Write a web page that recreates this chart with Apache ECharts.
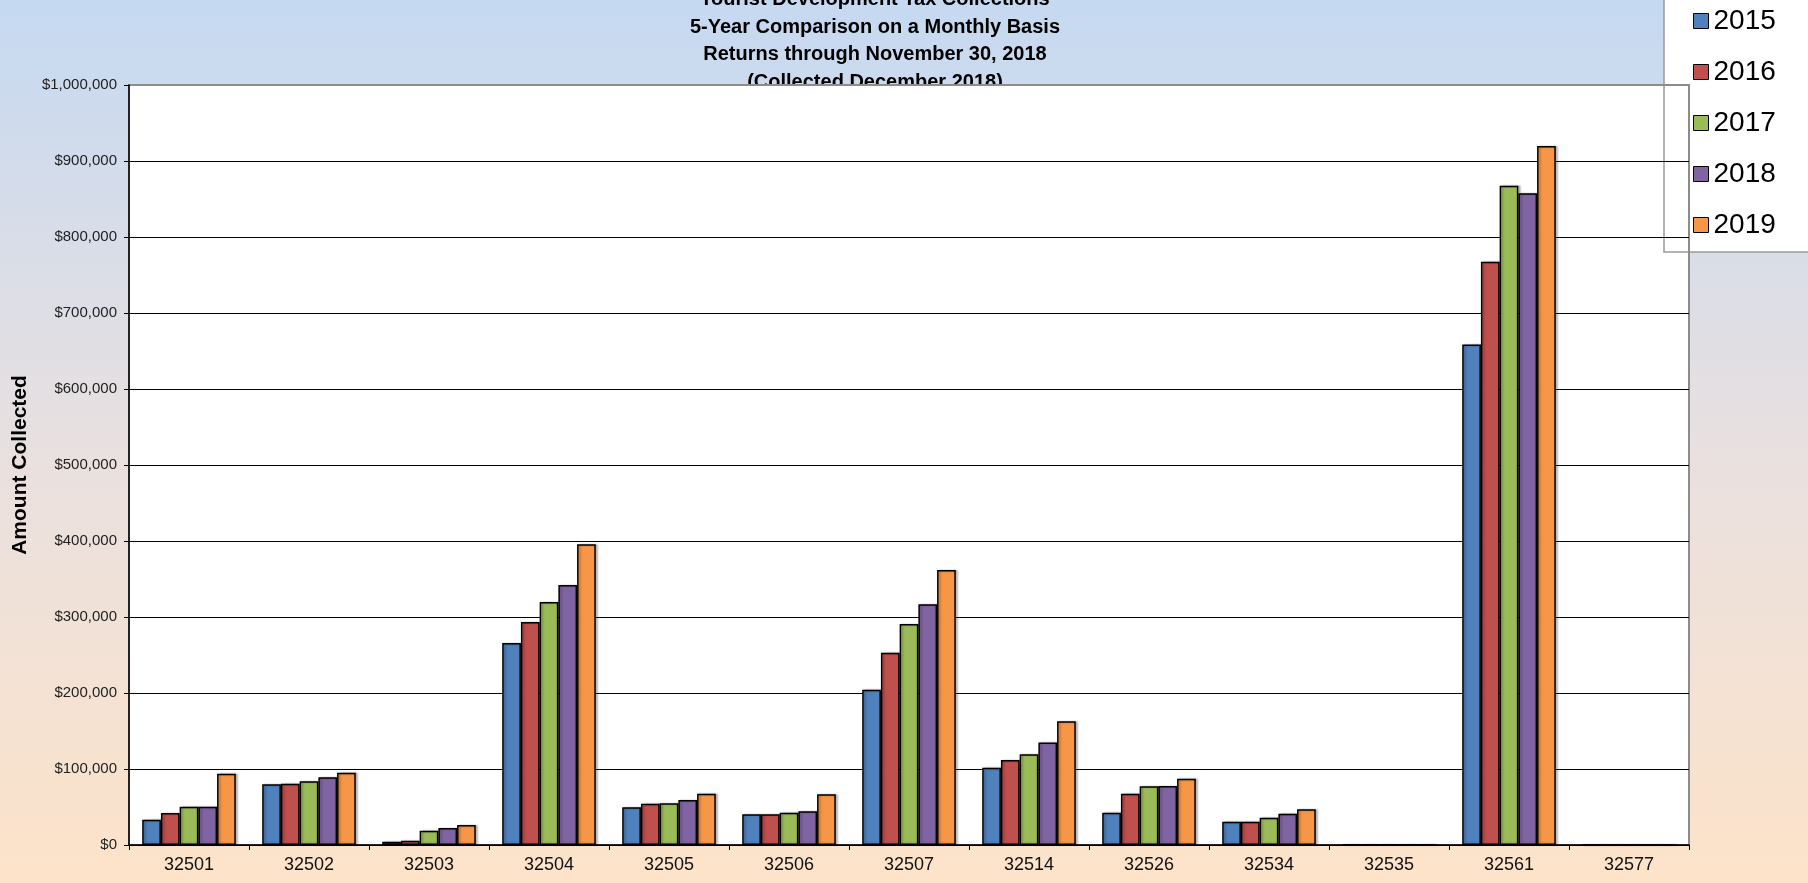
<!DOCTYPE html>
<html>
<head>
<meta charset="utf-8">
<title>Tourist Development Tax Collections</title>
<script src="https://cdn.jsdelivr.net/npm/echarts@6/dist/echarts.min.js"></script>
<style>
  html, body { margin: 0; padding: 0; }
  #panel { width: 1808px; height: 883px; }
</style>
</head>
<body>
<div id="panel"></div>
<script>
// zip codes on the x axis
const zips = ['32501', '32502', '32503', '32504', '32505', '32506', '32507', '32514', '32526', '32534', '32535', '32561', '32577'];
const years = ['2015', '2016', '2017', '2018', '2019'];
const COLORS = ['#4f81bd', '#c0504d', '#9bbb59', '#8064a2', '#f79646'];

// amounts collected per year
const y2015 = [33300, 79800, 4400, 265800, 49600, 40400, 204400, 101800, 42500, 30700, 600, 658500, 300];
const y2016 = [42000, 80700, 5700, 293400, 54400, 40400, 253000, 111800, 67500, 30700, 600, 767500, 300];
const y2017 = [50400, 83800, 18900, 319700, 54800, 42500, 290800, 119300, 77200, 36000, 600, 867500, 300];
const y2018 = [50400, 89000, 22400, 342000, 59200, 44300, 316700, 135000, 77600, 41200, 600, 857500, 300];
const y2019 = [93900, 95200, 26300, 395600, 67500, 66700, 361800, 162700, 87300, 46900, 600, 919700, 300];

const titleLines = [
  'Tourist Development Tax Collections',
  '5-Year Comparison on a Monthly Basis',
  'Returns through November 30, 2018',
  '(Collected December 2018)',
];

// plot box
const G = { left: 129, top: 85, right: 119, bottom: 38 };
const W = 1808, H = 883;

const myChart = echarts.init(document.getElementById('panel'));

const makeSeries = (name, data, i) => ({
  name: name,
  type: 'bar',
  data: data,
  barGap: 0,
  barCategoryGap: '22%',
  z: 4,
  itemStyle: {
    color: COLORS[i],
    borderColor: '#000',
    borderWidth: 1.5,
    shadowColor: 'rgba(0,0,0,0.25)',
    shadowOffsetX: 2,
    shadowBlur: 2,
  },
});

// gridlines are black, the top one (plot edge) is grey
const gridColors = ['#000', '#000', '#000', '#000', '#000', '#000', '#000', '#000', '#000', '#000', '#8c8c8c'];

var option = {
  animation: false,
  backgroundColor: {
    type: 'linear', x: 0, y: 0, x2: 0, y2: 1,
    colorStops: [
      { offset: 0, color: '#c5d9f1' },
      { offset: 0.5, color: '#e8e0e0' },
      { offset: 1, color: '#fde3c9' },
    ],
  },
  title: {
    text: titleLines.join('\n'),
    left: 875,
    textAlign: 'center',
    top: -14,
    z: 0,
    padding: 0,
    textStyle: {
      fontFamily: '"Comic Sans MS", "Liberation Sans", sans-serif',
      fontWeight: 'bold',
      fontSize: 20,
      lineHeight: 27.5,
      color: '#000',
    },
  },
  legend: {
    data: years,
    orient: 'vertical',
    left: 1693,
    top: 6,
    padding: 0,
    itemGap: 21,
    itemWidth: 15,
    itemHeight: 15,
    icon: 'rect',
    z: 5,
    itemStyle: { borderColor: '#000', borderWidth: 1 },
    textStyle: { fontFamily: '"Liberation Sans", Arial', fontSize: 28, lineHeight: 30, color: '#000' },
  },
  grid: {
    show: true,
    z: 1,
    left: G.left,
    top: G.top,
    right: G.right,
    bottom: G.bottom,
    backgroundColor: '#fff',
    borderWidth: 0,
  },
  graphic: [
    {
      // legend box
      type: 'rect',
      z: 2,
      silent: true,
      shape: { x: 1664, y: -2, width: 200, height: 254 },
      style: { fill: '#fff', stroke: '#9a9a9a', lineWidth: 1.5 },
    },
    {
      // plot border
      type: 'rect',
      z: 2,
      silent: true,
      shape: { x: G.left, y: G.top, width: W - G.left - G.right, height: H - G.top - G.bottom },
      style: { fill: 'none', stroke: '#8c8c8c', lineWidth: 2 },
    },
  ],
  xAxis: {
    type: 'category',
    data: zips,
    z: 3,
    axisLine: { lineStyle: { color: '#000', width: 1.5 } },
    axisTick: { show: true, length: 5, lineStyle: { color: '#000' } },
    axisLabel: { fontFamily: '"Liberation Sans", Arial', fontSize: 18, color: '#111', margin: 11 },
  },
  yAxis: {
    type: 'value',
    min: 0,
    max: 1000000,
    interval: 100000,
    z: 3,
    name: 'Amount Collected',
    nameLocation: 'middle',
    nameGap: 98,
    nameTextStyle: { fontFamily: '"Liberation Sans", Arial', fontWeight: 'bold', fontSize: 21, color: '#000' },
    axisLine: { show: true, lineStyle: { color: '#000', width: 1.5 } },
    axisTick: { show: true, length: 5, lineStyle: { color: '#000' } },
    splitLine: { show: true, lineStyle: { color: gridColors, width: 1 } },
    axisLabel: {
      fontFamily: '"Liberation Sans", Arial',
      fontSize: 15,
      color: '#222',
      margin: 12,
      formatter: (v) => '$' + v.toLocaleString('en-US'),
    },
  },
  series: [
    makeSeries(years[0], y2015, 0),
    makeSeries(years[1], y2016, 1),
    makeSeries(years[2], y2017, 2),
    makeSeries(years[3], y2018, 3),
    makeSeries(years[4], y2019, 4),
  ],
};

myChart.setOption(option);
</script>
</body>
</html>
